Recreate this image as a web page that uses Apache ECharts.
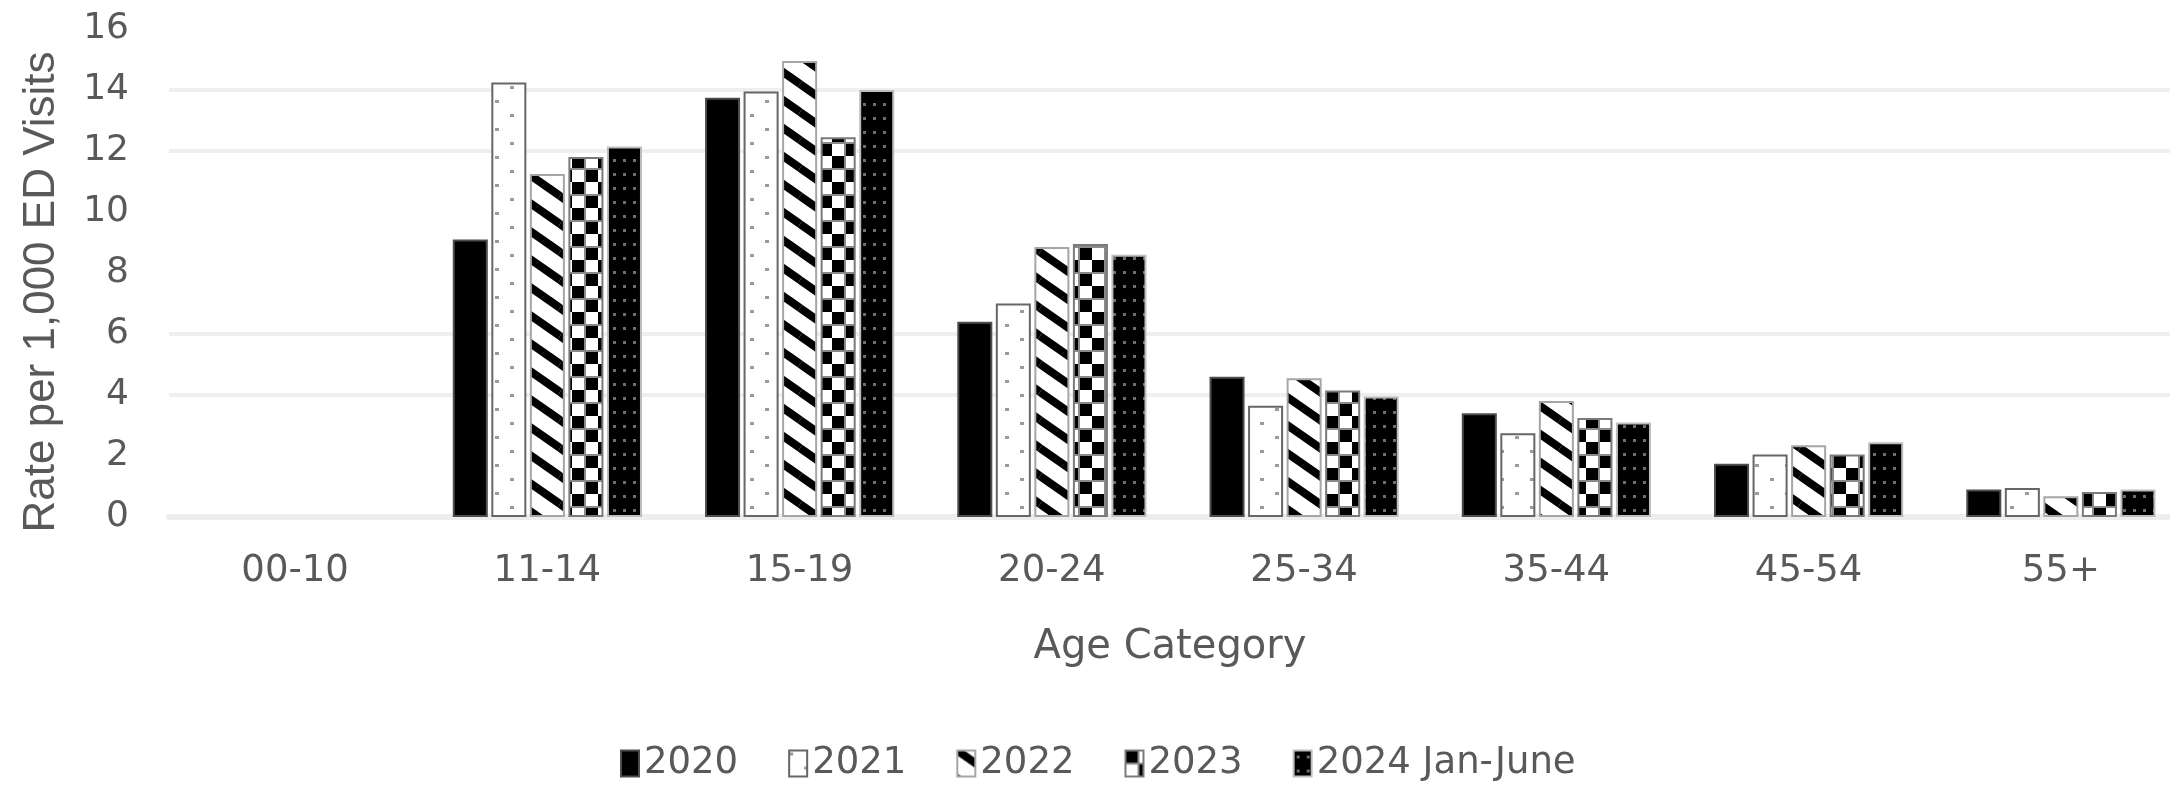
<!DOCTYPE html>
<html><head><meta charset="utf-8">
<script src="https://cdn.jsdelivr.net/npm/echarts@6/dist/echarts.min.js"></script>
<style>html,body{margin:0;padding:0;background:#fff}#chart{width:2170px;height:785px}</style>
</head><body><div id="chart"></div>
<script>
// ---- data ----
const categories = ['00-10', '11-14', '15-19', '20-24', '25-34', '35-44', '45-54', '55+'];
const seriesNames = ['2020', '2021', '2022', '2023', '2024 Jan-June'];
const v2020 = [null, 9.1, 13.75, 6.4, 4.6, 3.4, 1.75, 0.9];
const v2021 = [null, 14.25, 13.95, 7.0, 3.65, 2.75, 2.05, 0.95];
const v2022 = [null, 11.25, 14.95, 8.85, 4.55, 3.8, 2.35, 0.68];
const v2023 = [null, 11.8, 12.45, 8.95, 4.15, 3.25, 2.05, 0.82];
const v2024 = [null, 12.15, 14.0, 8.6, 3.95, 3.1, 2.45, 0.9];
const yMin = 0, yMax = 16, yInterval = 2;
const yTitle = 'Rate per 1,000 ED Visits';
const xTitle = 'Age Category';

// ---- fill patterns ----
function tile(w, h, draw) {
  const c = document.createElement('canvas');
  c.width = w; c.height = h;
  draw(c.getContext('2d'), w, h);
  return { image: c, repeat: 'repeat' };
}
const patSolid = '#000000';
const patDots = tile(30, 28, (g, w, h) => {
  g.fillStyle = '#ffffff'; g.fillRect(0, 0, w, h);
  g.fillStyle = '#9a9a9a';
  g.fillRect(0, 2, 4, 3); g.fillRect(15, 16, 4, 3);
});
const patStripes = tile(40, 28, (g, w, h) => {
  g.fillStyle = '#ffffff'; g.fillRect(0, 0, w, h);
  g.strokeStyle = '#000000'; g.lineWidth = 8;
  for (let dx = -1; dx <= 1; dx++) for (let dy = -1; dy <= 1; dy++) {
    g.beginPath(); g.moveTo(dx * w, dy * h); g.lineTo(dx * w + w, dy * h + h); g.stroke();
  }
});
const patChecker = tile(26, 26, (g, w, h) => {
  g.fillStyle = '#ffffff'; g.fillRect(0, 0, w, h);
  g.fillStyle = '#000000';
  g.fillRect(0, 0, 13, 13); g.fillRect(13, 13, 13, 13);
  g.fillStyle = '#8a8a8a';
  g.fillRect(0, 12, 26, 2); g.fillRect(12, 0, 2, 26);
});
const patDarkDots = tile(10, 14, (g, w, h) => {
  g.fillStyle = '#000000'; g.fillRect(0, 0, w, h);
  g.fillStyle = '#6e6e6e';
  g.fillRect(3, 5, 3, 3);
});

const fills = [patSolid, patDots, patStripes, patChecker, patDarkDots];
const borders = ['#4d4d4d', '#666666', '#a6a6a6', '#7a7a7a', '#bdbdbd'];
const values = [v2020, v2021, v2022, v2023, v2024];

const font = 'DejaVu Sans';
const textColor = '#595959';

const chart = echarts.init(document.getElementById('chart'), null, { renderer: 'canvas' });
chart.setOption({
  animation: false,
  backgroundColor: '#ffffff',
  textStyle: { fontFamily: font, color: textColor },
  grid: { left: 169, width: 2018, top: 29, bottom: 268, containLabel: false, outerBoundsMode: 'none' },
  legend: {
    data: seriesNames,
    left: 615, top: 740,
    icon: 'rect', itemWidth: 18, itemHeight: 26, itemGap: 50,
    textStyle: { fontFamily: font, fontSize: 37, color: textColor }
  },
  xAxis: {
    type: 'category',
    data: categories,
    axisTick: { show: false },
    axisLine: { show: true, lineStyle: { color: '#ededed', width: 6 } },
    axisLabel: { fontFamily: font, fontSize: 37, color: textColor, margin: 36 },
    name: xTitle, nameLocation: 'middle', nameGap: 111,
    nameTextStyle: { fontFamily: font, fontSize: 40, color: textColor, padding: [0, 16, 0, 0] }
  },
  yAxis: {
    type: 'value',
    min: yMin, max: yMax, interval: yInterval,
    axisLine: { show: false }, axisTick: { show: false },
    axisLabel: { fontFamily: font, fontSize: 36, color: textColor, margin: 40 },
    splitLine: { show: true, lineStyle: { width: 4, color: ['#efefef', 'rgba(0,0,0,0)', '#efefef', '#efefef', 'rgba(0,0,0,0)', 'rgba(0,0,0,0)', '#efefef', '#efefef', 'rgba(0,0,0,0)'] } },
    name: yTitle, nameLocation: 'middle', nameGap: 105,
    nameTextStyle: { fontFamily: 'Liberation Sans', fontSize: 44, color: textColor, padding: [0, 38, 0, 0] }
  },
  series: seriesNames.map((n, i) => ({
    name: n,
    type: 'bar',
    data: values[i],
    barGap: '10%',
    barCategoryGap: '25%',
    itemStyle: { color: fills[i], borderColor: borders[i], borderWidth: 2 }
  }))
});
</script>
</body></html>
